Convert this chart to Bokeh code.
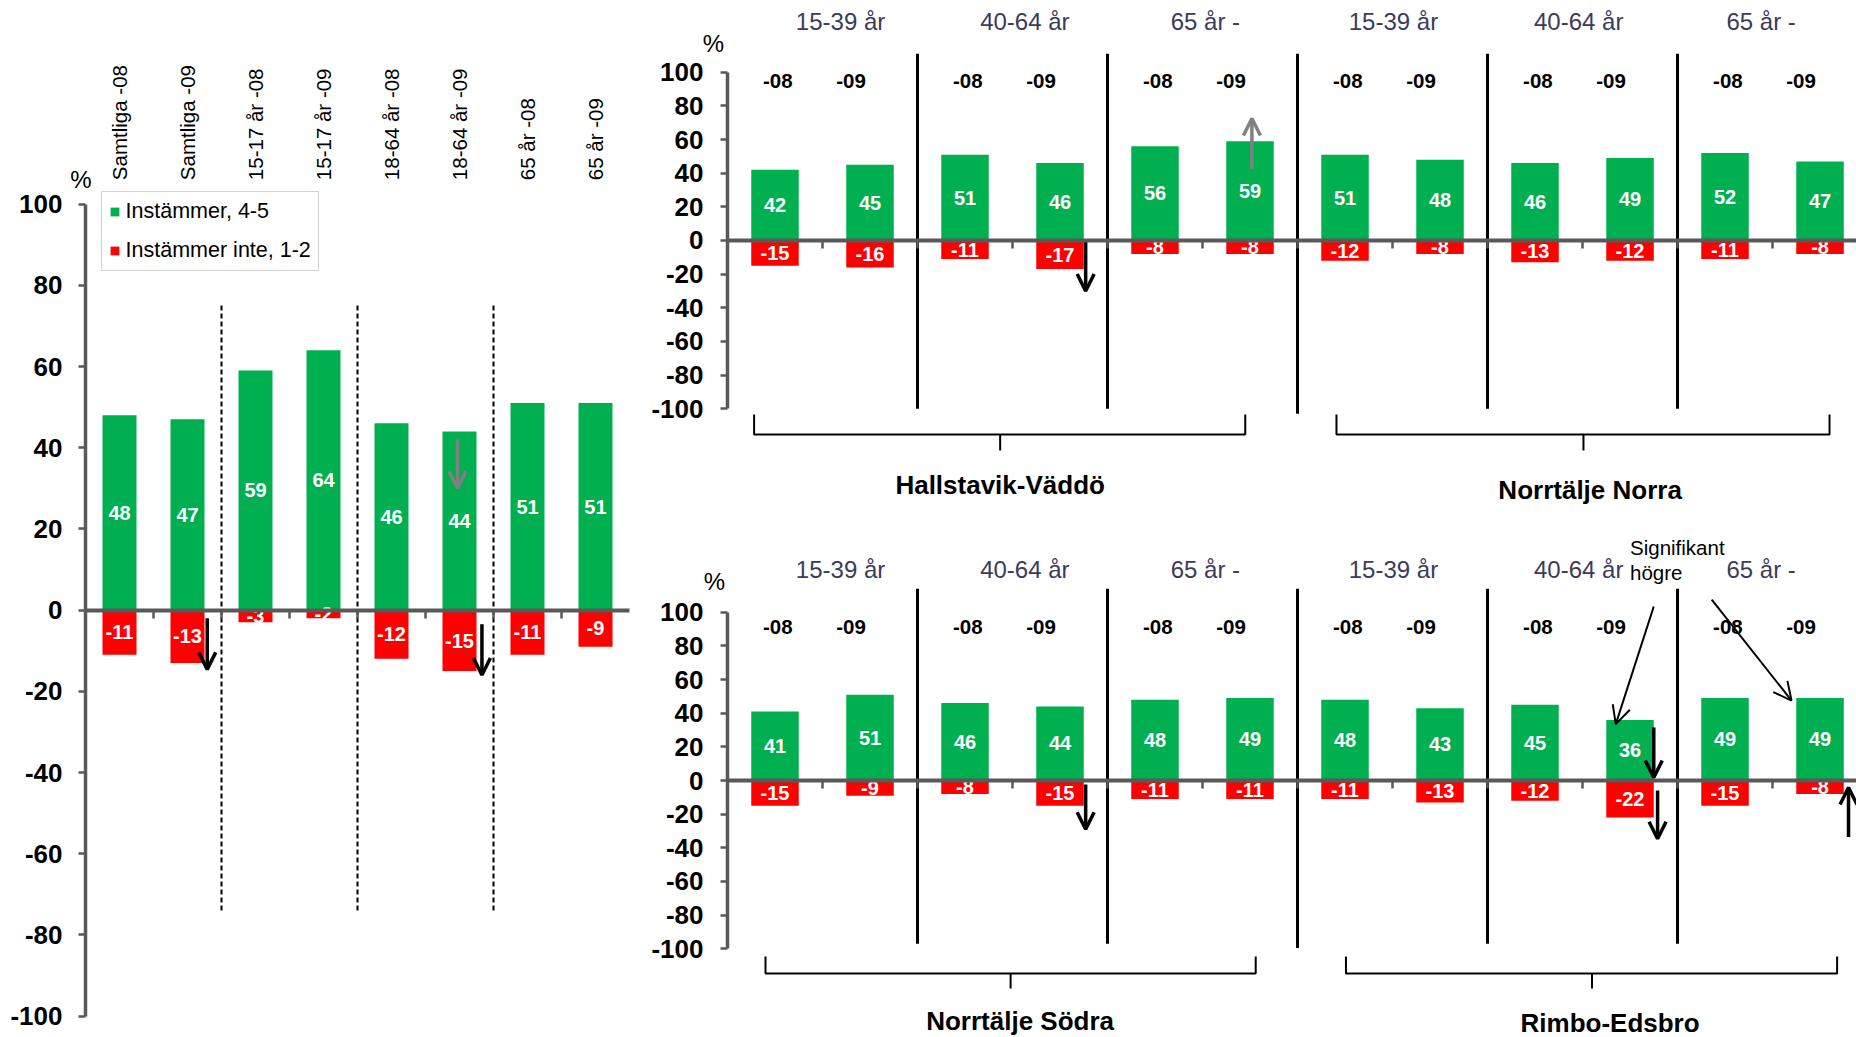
import math
from bokeh.plotting import figure
from bokeh.models import (Range1d, LinearAxis, FixedTicker,
                          Legend, LegendItem, Label, Arrow, OpenHead, ColumnDataSource)
from bokeh.layouts import row, column
from bokeh.embed import file_html
from bokeh.resources import INLINE
from bokeh.core.properties import value

# ---------------- data ----------------
overview_categories = ["Samtliga -08", "Samtliga -09", "15-17 år -08", "15-17 år -09",
                       "18-64 år -08", "18-64 år -09", "65 år -08", "65 år -09"]
overview_agree = [48, 47, 59, 64, 46, 44, 51, 51]
overview_disagree = [-11, -13, -3, -2, -12, -15, -11, -9]

age_groups = ["15-39 år", "40-64 år", "65 år -"]
years = ["-08", "-09"]

hallstavik_agree = [42, 45, 51, 46, 56, 59]
hallstavik_disagree = [-15, -16, -11, -17, -8, -8]
norra_agree = [51, 48, 46, 49, 52, 47]
norra_disagree = [-12, -8, -13, -12, -11, -8]
sodra_agree = [41, 51, 46, 44, 48, 49]
sodra_disagree = [-15, -9, -8, -15, -11, -11]
rimbo_agree = [48, 43, 45, 36, 49, 49]
rimbo_disagree = [-11, -13, -12, -22, -15, -8]

legend_labels = ["Instämmer, 4-5", "Instämmer inte, 1-2"]
y_ticks = list(range(-100, 101, 20))

# ---------------- style ----------------
FONT = "Liberation Sans"
GREEN = "#00B050"
RED = "#FF0000"
AXIS = "#595959"
GROUPCOL = "#3B3B5C"


def style_y_axis(fig, size, standoff):
    ax = LinearAxis(fixed_location=0, ticker=FixedTicker(ticks=y_ticks), bounds=(-100, 100),
                    major_label_overrides={t: str(t) for t in y_ticks},
                    axis_line_color=AXIS, axis_line_width=3.5,
                    major_tick_line_color=AXIS, major_tick_line_width=2.5,
                    major_tick_out=7, major_tick_in=0, minor_tick_line_color=None,
                    major_label_text_font=FONT, major_label_text_font_size=size,
                    major_label_text_font_style="bold", major_label_text_color="black",
                    major_label_standoff=standoff)
    fig.add_layout(ax, "left")


def zero_axis(fig, n, right_end):
    ticks = list(range(1, n))
    ax = LinearAxis(fixed_location=0, ticker=FixedTicker(ticks=ticks), bounds=(0, right_end),
                    axis_line_color=AXIS, axis_line_width=4,
                    major_tick_line_color=AXIS, major_tick_line_width=2.5,
                    major_tick_out=8, major_tick_in=0, minor_tick_line_color=None,
                    major_label_text_font_size="0px",
                    major_label_overrides={t: "" for t in ticks})
    fig.add_layout(ax, "below")


def bar_labels(fig, xs, vals):
    src = ColumnDataSource(dict(x=xs, y=[v / 2 for v in vals], t=[str(v) for v in vals]))
    fig.text(x="x", y="y", text="t", source=src, text_color="white",
             text_font=value(FONT), text_font_size=value("20px"), text_font_style="bold",
             text_align="center", text_baseline="middle")


def add_arrow(fig, spec, color="black", lw=3.5, size=17):
    x0, y0, x1, y1 = spec
    fig.add_layout(Arrow(end=OpenHead(size=size, line_width=lw, line_color=color),
                         x_start=x0, y_start=y0, x_end=x1, y_end=y1,
                         line_width=lw, line_color=color))


# ---------------- left overview chart ----------------
n_left = len(overview_categories)
left_x = [i + 0.5 for i in range(n_left)]

left = figure(width=640, height=1037, x_range=Range1d(-1.25, n_left + 0.1618),
              y_range=Range1d(-105.27, 150.15),
              x_axis_type=None, y_axis_type=None, toolbar_location=None, output_backend="svg",
              min_border_left=0, min_border_right=0, min_border_top=0, min_border_bottom=0)
left.outline_line_color = None

g_r = left.vbar(x=left_x, top=overview_agree, bottom=0, width=0.5, fill_color=GREEN, line_color=None)
r_r = left.vbar(x=left_x, top=0, bottom=overview_disagree, width=0.5, fill_color=RED, line_color=None)
bar_labels(left, left_x, overview_agree)
bar_labels(left, left_x, overview_disagree)

group_bounds_left = [2, 4, 6]
left.segment(x0=group_bounds_left, y0=[75] * 3, x1=group_bounds_left, y1=[-74.5] * 3,
             line_color="black", line_width=2, line_dash="5 3")

style_y_axis(left, "26px", 16)
zero_axis(left, n_left, n_left)

# rotated category labels above the bars
left.text(x=left_x, y=[105.9] * n_left, text=overview_categories, angle=math.pi / 2,
          text_color="black", text_font=value(FONT), text_font_size=value("20.5px"),
          text_align="left", text_baseline="middle")

legend = Legend(items=[LegendItem(label=legend_labels[0], renderers=[g_r]),
                       LegendItem(label=legend_labels[1], renderers=[r_r])],
                location=(100.6, 766), orientation="vertical",
                label_text_font=FONT, label_text_font_size="21.5px", label_text_color="black",
                glyph_width=11, glyph_height=11, label_standoff=6, label_height=25,
                spacing=14, padding=7, margin=0,
                border_line_color="#A6A6A6", border_line_width=1.5,
                background_fill_color="white", background_fill_alpha=1)
left.add_layout(legend)

left.add_layout(Label(x=-0.066, y=106.1, text="%", text_align="center", text_baseline="middle",
                      text_font=FONT, text_font_size="24px", text_color="black"))

add_arrow(left, (1.79, -2, 1.79, -14.6))
add_arrow(left, (5.83, -3.5, 5.83, -16))
add_arrow(left, (5.47, 42, 5.47, 30), color="#808080")


# ---------------- right panels ----------------
X_RIGHT_END = 11.884


def region_panel(height, y_lo, y_hi, agree_a, dis_a, agree_b, dis_b, name_a, name_b, cfg):
    agree = agree_a + agree_b
    dis = dis_a + dis_b
    n = len(agree)
    xs = [i + 0.5 for i in range(n)]
    p = figure(width=1216, height=height, x_range=Range1d(-0.91579, X_RIGHT_END),
               y_range=Range1d(y_lo, y_hi),
               x_axis_type=None, y_axis_type=None, toolbar_location=None, output_backend="svg",
               min_border_left=0, min_border_right=0, min_border_top=0, min_border_bottom=0)
    p.outline_line_color = None

    p.vbar(x=xs, top=agree, bottom=0, width=0.5, fill_color=GREEN, line_color=None)
    p.vbar(x=xs, top=0, bottom=dis, width=0.5, fill_color=RED, line_color=None)
    bar_labels(p, xs, agree)
    bar_labels(p, xs, dis)

    style_y_axis(p, "26px", 17)
    zero_axis(p, n, X_RIGHT_END)

    # separators between age groups
    seps = [2 * k for k in range(1, 2 * len(age_groups))]
    bottoms = [cfg["sep_bottom_mid"] if s == 2 * len(age_groups) else cfg["sep_bottom"] for s in seps]
    p.segment(x0=seps, y0=[cfg["sep_top"]] * len(seps), x1=seps, y1=bottoms,
              line_color="black", line_width=3)

    # year labels
    yx, yt = [], []
    for i in range(n):
        yt.append(years[i % 2])
        yx.append(xs[i] + (0.03 if i % 2 == 0 else -0.2))
    p.text(x=yx, y=[cfg["year_y"]] * n, text=yt, text_color="black",
           text_font=value(FONT), text_font_size=value("20.5px"), text_font_style="bold",
           text_align="center", text_baseline="middle")

    # age group labels
    offsets = [0.19, 0.13, 0.03, 0.01, -0.04, -0.12]
    gx = [2 * k + 1 + offsets[k] for k in range(2 * len(age_groups))]
    p.text(x=gx, y=[cfg["group_y"]] * len(gx), text=age_groups * 2, text_color=GROUPCOL,
           text_font=value(FONT), text_font_size=value("24px"),
           text_align="center", text_baseline="middle")

    # braces
    top_y, mid_y, bot_y = cfg["brace_y"]
    xs_l, ys_l = [], []
    for (xl, xr, xc) in cfg["brace_x"]:
        xs_l.append([xl, xl, xr, xr])
        ys_l.append([top_y, mid_y, mid_y, top_y])
        xs_l.append([xc, xc])
        ys_l.append([mid_y, bot_y])
    p.multi_line(xs=xs_l, ys=ys_l, line_color="black", line_width=2)

    # region names
    (nx1, ny1), (nx2, ny2) = cfg["names"]
    p.text(x=[nx1, nx2], y=[ny1, ny2], text=[name_a, name_b], text_color="black",
           text_font=value(FONT), text_font_size=value("26px"), text_font_style="bold",
           text_align="center", text_baseline="middle")

    px, py = cfg["pct"]
    p.add_layout(Label(x=px, y=py, text="%", text_align="center", text_baseline="middle",
                       text_font=FONT, text_font_size="24px", text_color="black"))
    for a in cfg["arrows"]:
        add_arrow(p, a)
    for a in cfg.get("grey_arrows", []):
        add_arrow(p, a, color="#808080")
    for a in cfg.get("thin_arrows", []):
        add_arrow(p, a, lw=2, size=18)
    for (tx, ty, tt) in cfg.get("notes", []):
        p.add_layout(Label(x=tx, y=ty, text=tt, text_align="left", text_baseline="middle",
                           text_font=FONT, text_font_size="20.5px", text_color="black"))
    return p


top_cfg = dict(year_y=94.5, group_y=130.1, pct=(-0.147, 116.8),
               sep_top=111, sep_bottom=-100, sep_bottom_mid=-103,
               brace_y=(-103.4, -115.3, -124.8),
               brace_x=[(0.28, 5.45, 2.87), (6.41, 11.6, 9.01)],
               names=[(2.87, -145.6), (9.08, -148.5)],
               arrows=[(3.77, -1, 3.77, -30)],
               grey_arrows=[(5.52, 42.5, 5.52, 72.5)])

bottom_cfg = dict(year_y=91, group_y=125.4, pct=(-0.137, 118.2),
                  sep_top=114, sep_bottom=-97, sep_bottom_mid=-99.5,
                  brace_y=(-104.6, -114.7, -123.6),
                  brace_x=[(0.4, 5.56, 2.98), (6.51, 11.68, 9.1)],
                  names=[(3.08, -142.6), (9.29, -143.8)],
                  arrows=[(3.77, -2.4, 3.77, -29), (9.75, 31.5, 9.75, 1.8),
                          (9.79, -6, 9.79, -34.6), (11.8, -33.5, 11.8, -4.2)],
                  thin_arrows=[(9.75, 103.4, 9.35, 33.5), (10.36, 107.5, 11.2, 47.5)],
                  notes=[(9.5, 138.5, "Signifikant"), (9.5, 123.5, "högre")])

top = region_panel(520, -166.4, 142.6, hallstavik_agree, hallstavik_disagree,
                   norra_agree, norra_disagree, "Hallstavik-Väddö", "Norrtälje Norra", top_cfg)
bottom = region_panel(517, -152.7, 154.5, sodra_agree, sodra_disagree,
                      rimbo_agree, rimbo_disagree, "Norrtälje Södra", "Rimbo-Edsbro", bottom_cfg)

layout = row(left, column(top, bottom, spacing=0), spacing=0)
open("out.html", "w").write(file_html(layout, INLINE))
